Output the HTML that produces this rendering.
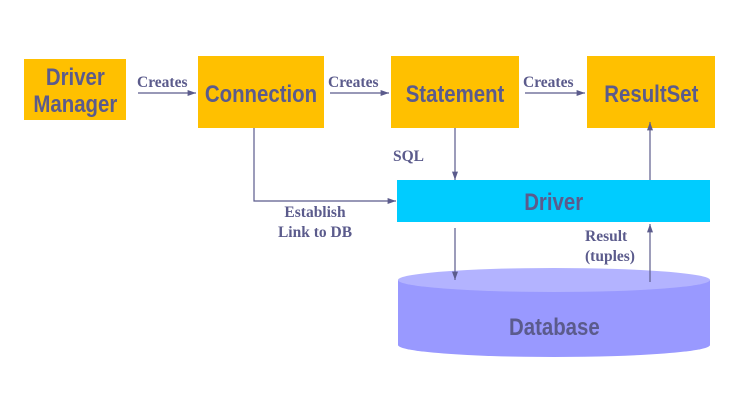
<!DOCTYPE html>
<html><head><style>
body{margin:0;width:732px;height:407px;background:#fff;position:relative;overflow:hidden;font-family:"Liberation Sans",sans-serif}
.b{position:absolute;background:#ffc000;color:#5b5b8c;font-weight:bold;display:flex;align-items:center;justify-content:center;text-align:center;font-size:24px;box-sizing:border-box;padding-top:5px}
.b span{display:inline-block;transform:scaleX(0.85)}
.l{position:absolute;font-family:"Liberation Serif",serif;font-weight:bold;color:#5b5b8c;font-size:15.5px;line-height:20px}
</style></head><body>
<div class="b" style="left:24px;top:59px;width:102px;height:61px;line-height:27px;padding-top:2px"><span>Driver<br>Manager</span></div>
<div class="b" style="left:198px;top:56px;width:126px;height:72px"><span>Connection</span></div>
<div class="b" style="left:391px;top:56px;width:128px;height:72px"><span>Statement</span></div>
<div class="b" style="left:587px;top:56px;width:128px;height:72px"><span>ResultSet</span></div>
<div class="b" style="left:397px;top:180px;width:313px;height:42px;background:#00ccff;padding-top:3px"><span>Driver</span></div>
<svg style="position:absolute;left:0;top:0" width="732" height="407">
<defs><marker id="a" markerWidth="8" markerHeight="8" refX="7" refY="4" orient="auto"><path d="M0,1.5 L7,4 L0,6.5z" fill="#5b5b8c"/></marker></defs>
<path d="M398,280 L398,345 A156,12 0 0 0 710,345 L710,280z" fill="#9999ff"/>
<ellipse cx="554" cy="280" rx="156" ry="12" fill="#b3b3ff"/>
<g stroke="#5b5b8c" stroke-width="1.2" fill="none" marker-end="url(#a)">
<line x1="138" y1="93" x2="196" y2="93"/>
<line x1="330" y1="93" x2="389" y2="93"/>
<line x1="525" y1="93" x2="585" y2="93"/>
<polyline points="254,128 254,201 396,201"/>
<line x1="455" y1="128" x2="455" y2="180"/>
<line x1="455" y1="228" x2="455" y2="280"/>
<line x1="650" y1="282" x2="650" y2="224"/>
<line x1="650" y1="180" x2="650" y2="122"/>
</g></svg>
<div class="l" style="left:137px;top:73px">Creates</div>
<div class="l" style="left:328px;top:73px">Creates</div>
<div class="l" style="left:523px;top:73px">Creates</div>
<div class="l" style="left:393px;top:147px">SQL</div>
<div class="l" style="left:265px;top:203px;width:100px;text-align:center">Establish<br>Link to DB</div>
<div class="l" style="left:585px;top:227px">Result<br>(tuples)</div>
<div class="b" style="left:398px;top:300px;width:312px;height:50px;background:none"><span>Database</span></div>
</body></html>
